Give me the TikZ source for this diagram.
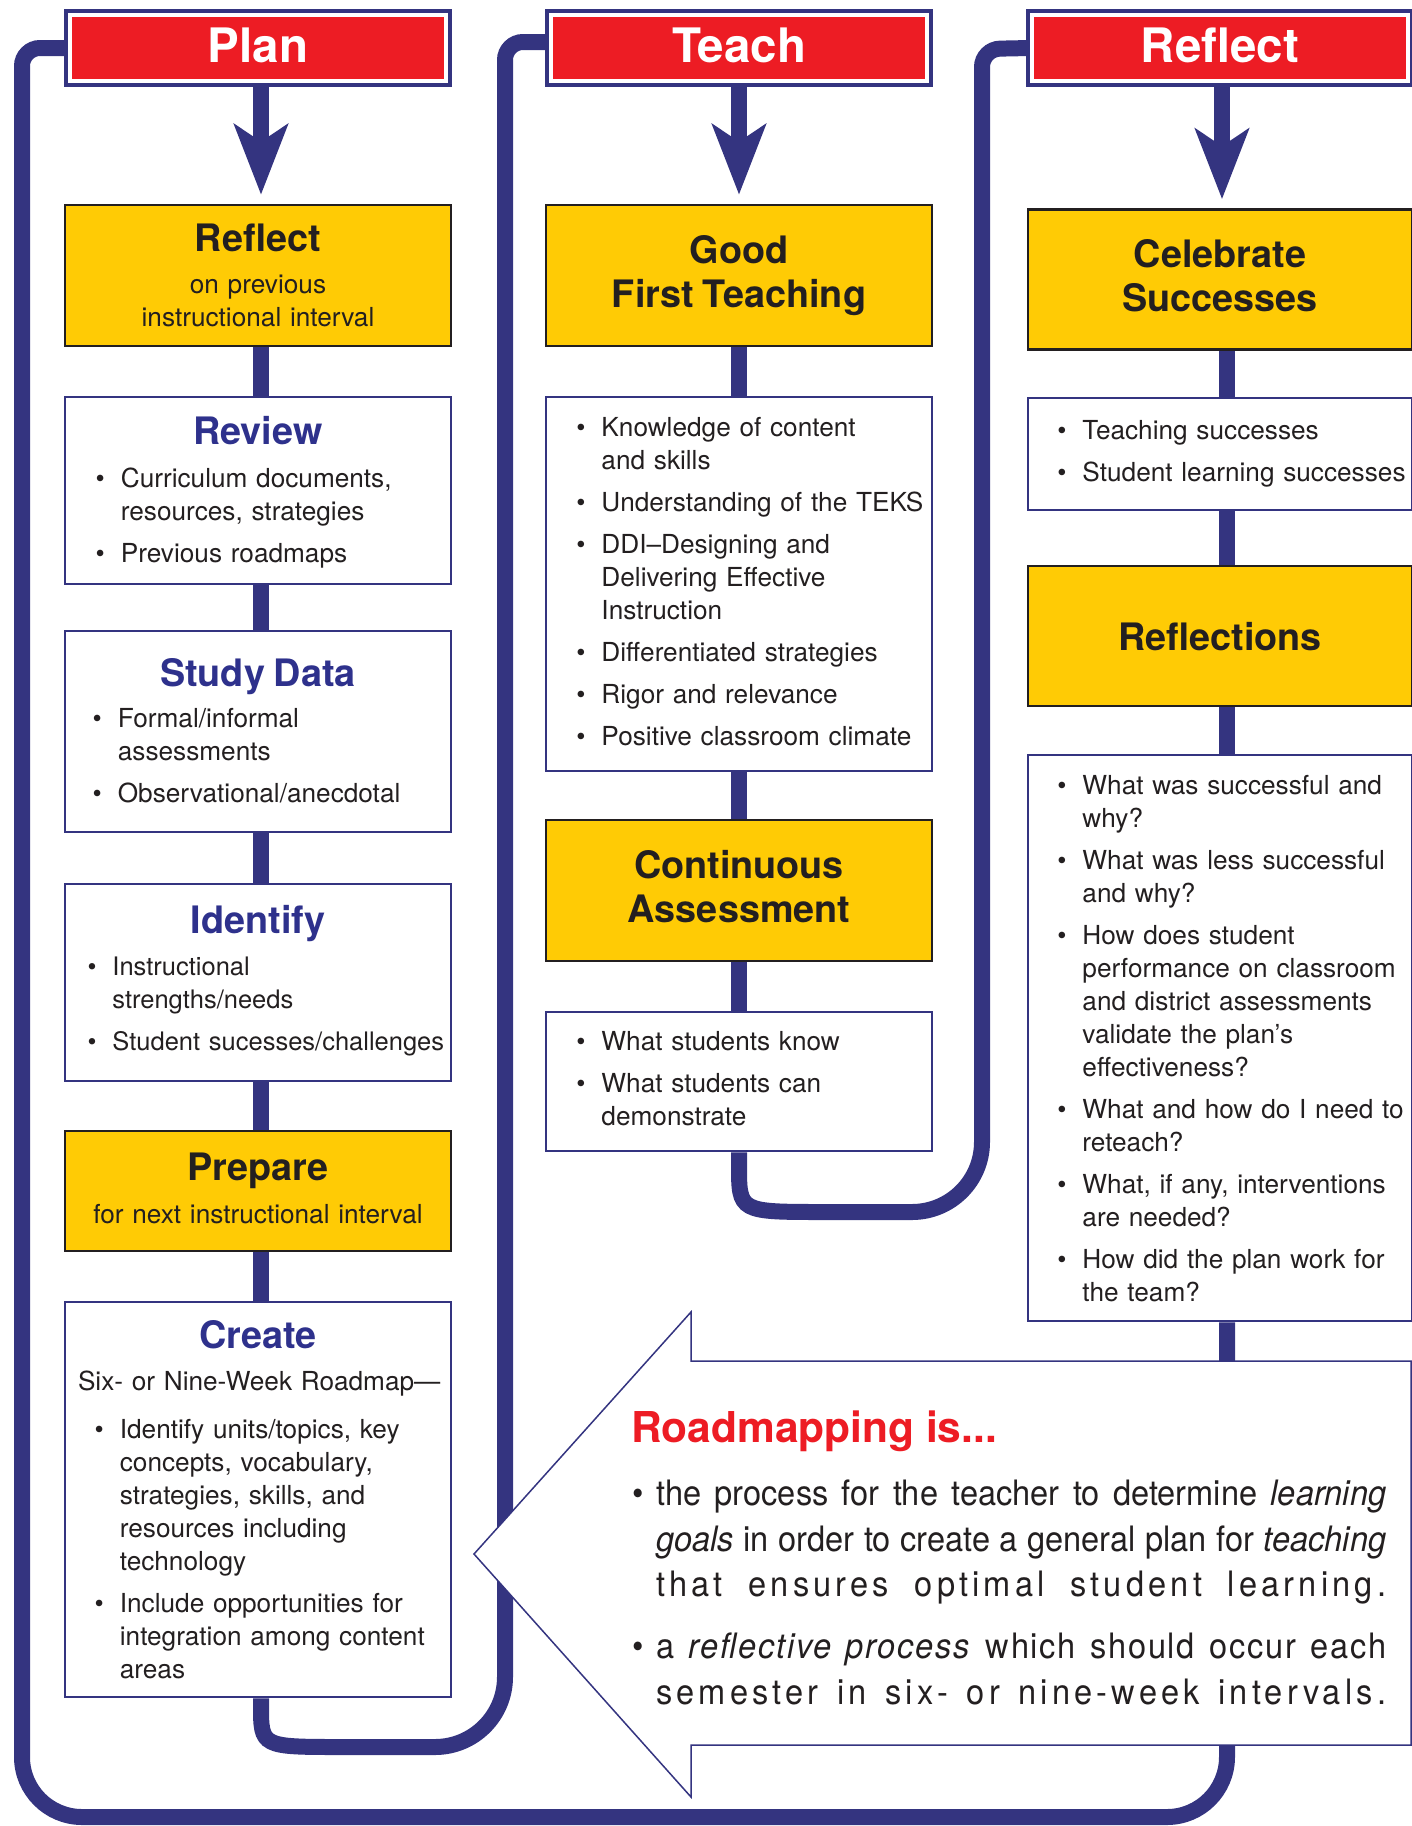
\documentclass[tikz,border=0pt]{standalone}
\usepackage{fontspec}
\setmainfont{TeX Gyre Heros}
\newfontfamily\condfont[FakeStretch=0.93]{TeX Gyre Heros}
\usetikzlibrary{arrows.meta}
\usetikzlibrary{positioning}

\definecolor{navy}{RGB}{52,52,128}
\definecolor{titleblue}{RGB}{46,49,140}
\definecolor{hdred}{RGB}{237,28,36}
\definecolor{gold}{RGB}{255,203,5}
\definecolor{ink}{RGB}{35,31,32}

\setlength{\parindent}{0pt}

\newcommand{\hdrfont}{\fontsize{47.5}{52}\selectfont\bfseries}
\newcommand{\ttlfont}{\fontsize{37.8}{44}\selectfont\bfseries}
\newcommand{\bodyfont}{\fontsize{26.2}{33}\selectfont}
\newcommand{\ttl}[2][ink]{{\ttlfont\color{#1}\centering #2\par}}
\newcommand{\subline}[1]{{\bodyfont\centering #1\par}}
\newcommand{\itm}{\textbullet &}
\newcommand{\lst}[2][11pt]{{\bodyfont\noindent\hspace*{#1}%
  \begin{tabular}[t]{@{}l@{\hspace{16pt}}l@{}}#2\end{tabular}\par}}
\newcommand{\jline}[2][0]{\makebox[730pt][s]{\addfontfeature{LetterSpace=#1}#2}}

\pgfdeclarelayer{bg}
\pgfsetlayers{bg,main}

\begin{document}
\begin{tikzpicture}[x=1pt, y=-1pt,
  hdr/.style={fill=hdred, draw=white, line width=4pt, minimum width=376pt,
    minimum height=66pt, inner sep=0pt, text depth=5pt, text=white,
    font=\hdrfont, preaction={draw=navy, line width=12pt}},
  cbox/.style={minimum width=386pt, text width=346pt, inner xsep=20pt,
    inner ysep=0pt, font=\bodyfont, text=ink},
  ybox/.style={cbox, fill=gold, draw=ink, line width=2.5pt},
  wbox/.style={cbox, fill=white, draw=navy, line width=2.5pt},
  rbox/.style={minimum width=384pt, text width=344pt},
  joint/.style={draw=navy, line width=16pt},
  loopline/.style={draw=navy, line width=16pt},
  hdarrow/.style={draw=navy, line width=16pt,
    -{Stealth[length=70pt, width=53pt, inset=17pt]}, shorten >=9pt},
  bigarrow/.style={draw=navy, line width=1.5pt, fill=white},
  rmtitle/.style={inner sep=0pt, text=hdred,
    font=\fontsize{42.5}{50}\selectfont\bfseries},
  rmbody/.style={inner sep=0pt, text=ink,
    font=\condfont\fontsize{35}{45.5}\selectfont}]

\useasboundingbox (0,0) rectangle (1412,1826);

\foreach \n/\t/\x in {plan/Plan/258, teach/Teach/739, refl/Reflect/1220}
  \node[hdr] (\n-h) at (\x,48) {\t};

\node[ybox, minimum height=141pt] (p-reflect) at (258,275.5)
  {\ttl{Reflect}\vspace{9.7pt}\subline{on previous\\instructional interval}};
\node[wbox, minimum height=187pt] (p-review) at (258,490.5)
  {\ttl[titleblue]{Review}\vspace{10pt}
   \lst[10.7pt]{\itm Curriculum documents,\\ & resources, strategies\\[9pt]
     \itm Previous roadmaps}\vspace{-7pt}};
\node[wbox, minimum height=201pt] (p-study) at (258,731.5)
  {\ttl[titleblue]{Study Data}\vspace{8pt}
   \lst[7.7pt]{\itm Formal/informal\\ & assessments\\[9pt]
     \itm Observational/anecdotal}\vspace{-7pt}};
\node[wbox, minimum height=197pt] (p-identify) at (258,982.5)
  {\ttl[titleblue]{Identify}\vspace{9pt}
   {\renewcommand{\bodyfont}{\fontsize{25.5}{33}\selectfont}%
   \lst[2.5pt]{\itm Instructional\\ & strengths/needs\\[9pt]
     \itm Student sucesses/challenges}}};
\node[ybox, minimum height=120pt] (p-prepare) at (258,1191)
  {\ttl{Prepare}\vspace{10pt}\subline{for next instructional interval}\vspace{4.6pt}};
\node[wbox, minimum height=395pt] (p-create) at (258,1499.5)
  {\ttl[titleblue]{Create}\vspace{9pt}
   {\bodyfont\noindent\hspace*{-7pt}\mbox{Six- or Nine-Week Roadmap---}\par}
   \vspace{15pt}
   \lst[9.7pt]{\itm Identify units/topics, key\\ & concepts, vocabulary,\\
     & strategies, skills, and\\ & resources including\\ & technology\\[9pt]
     \itm Include opportunities for\\ & integration among content\\ & areas}
   \vspace{-10.5pt}};

\node[ybox, minimum height=141pt] (t-good) at (739,275.5)
  {\ttl{Good\\First Teaching}};
\node[wbox, minimum height=374pt] (t-list) at (739,584)
  {\lst[10.3pt]{\itm Knowledge of content\\ & and skills\\[9pt]
     \itm Understanding of the TEKS\\[9pt]
     \itm DDI\textendash Designing and\\ & Delivering Effective\\ & Instruction\\[9pt]
     \itm Differentiated strategies\\[9pt]
     \itm Rigor and relevance\\[9pt]
     \itm Positive classroom climate}};
\node[ybox, minimum height=141pt] (t-cont) at (739,890.5)
  {\ttl{Continuous\\Assessment}\vspace{7pt}};
\node[wbox, minimum height=139pt] (t-know) at (739,1081.5)
  {\lst[10.3pt]{\itm What students know\\[9pt]
     \itm What students can\\ & demonstrate}};

\node[ybox, rbox, minimum height=140pt] (r-celebrate) at (1220,279.5)
  {\ttl{Celebrate\\Successes}\vspace{7pt}};
\node[wbox, rbox, minimum height=112pt] (r-succ) at (1220,454)
  {\lst[9.3pt]{\itm Teaching successes\\[9pt]
     \itm Student learning successes}};
\node[ybox, rbox, minimum height=140pt] (r-reflections) at (1220,636)
  {\ttl{Reflections}\vspace{-16pt}};
\node[wbox, rbox, minimum height=566pt] (r-questions) at (1220,1038)
  {\lst[9.3pt]{\itm What was successful and\\ & why?\\[9pt]
     \itm What was less successful\\ & and why?\\[9pt]
     \itm How does student\\ & performance on classroom\\
       & and district assessments\\ & validate the plan’s\\ & effectiveness?\\[9pt]
     \itm What and how do I need to\\ & reteach?\\[9pt]
     \itm What, if any, interventions\\ & are needed?\\[9pt]
     \itm How did the plan work for\\ & the team?}\vspace{-7pt}};

\draw[bigarrow] (474,1554) -- (691,1312) -- (691,1361) -- (1411,1361)
  -- (1411,1745) -- (691,1745) -- (691,1797) -- cycle;

\node[rmtitle, anchor=base west] (rm-title) at (631,1442) {Roadmapping is...};
\node[rmbody, anchor=base west] (rm-text) at (632.3,1505.5)
  {\begin{tabular}[t]{@{}l@{\hspace{12.3pt}}l@{}}
   \textbullet & \jline{the process for the teacher to determine \textit{learning}}\\
   & \jline{\textit{goals} in order to create a general plan for \textit{teaching}}\\
   & \jline[12]{that ensures optimal student learning.}\\[16.5pt]
   \textbullet & \jline[5]{a \textit{reflective process} which should occur each}\\
   & \jline[12]{semester in six- or nine-week intervals.}
   \end{tabular}};

\begin{pgfonlayer}{bg}
\foreach \a/\b/\d in {plan-h/p-reflect/3, teach-h/t-good/0, refl-h/r-celebrate/2}
  \draw[hdarrow] ([xshift=\d pt]\a.south) -- ([xshift=\d pt]\b.north);

\foreach \a/\b/\d in {p-reflect/p-review/3, p-review/p-study/3,
    p-study/p-identify/3, p-identify/p-prepare/3, p-prepare/p-create/3,
    t-good/t-list/0, t-list/t-cont/0, t-cont/t-know/0,
    r-celebrate/r-succ/7, r-succ/r-reflections/7, r-reflections/r-questions/7}
  \draw[joint] ([xshift=\d pt]\a.south) -- ([xshift=\d pt]\b.north);

\draw[loopline] ([xshift=3pt]p-create.south) -- (261,1705)
  .. controls (261,1747) and (261,1747) .. (343,1747)
  [rounded corners=70pt] -- (505,1747) -- (505,900)
  [rounded corners=18pt] -- (505,42) -- ([yshift=6pt]teach-h.west);

\draw[loopline] (t-know.south) -- (739,1165)
  .. controls (739,1212) and (739,1212) .. (825,1212)
  [rounded corners=70pt] -- (982,1212) -- (982,700)
  [rounded corners=18pt] -- (982,49) -- (refl-h.west);

\draw[loopline] ([xshift=7pt]r-questions.south)
  [rounded corners=60pt] -- (1227,1817) -- (22,1817) -- (22,1000)
  [rounded corners=18pt] -- (22,48) -- (plan-h.west);
\end{pgfonlayer}

\end{tikzpicture}
\end{document}
